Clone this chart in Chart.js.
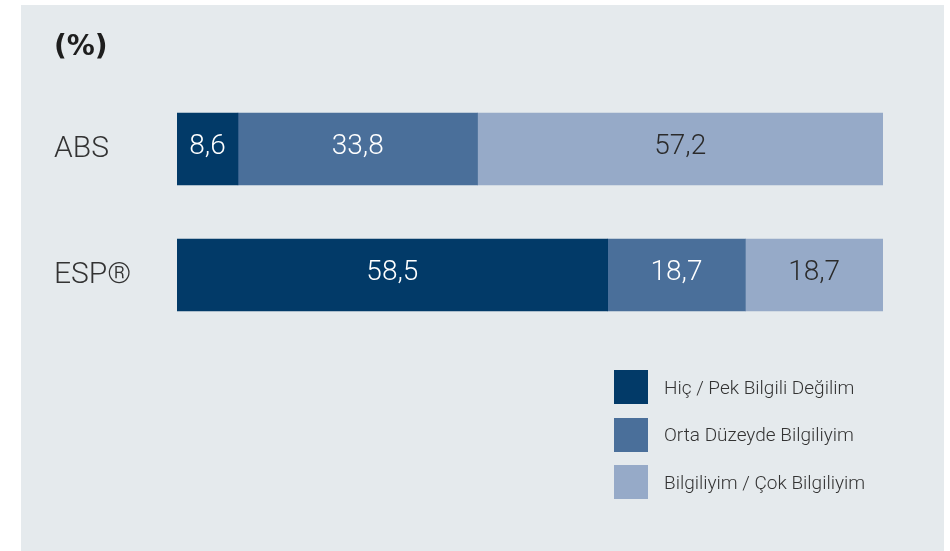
<!DOCTYPE html>
<html>
<head>
<meta charset="utf-8">
<script src="https://cdn.jsdelivr.net/npm/chart.js@4.4.1/dist/chart.umd.min.js"></script>
<style>
  html, body { margin: 0; padding: 0; background: #ffffff; }
  #wrap { position: relative; width: 950px; height: 551px; overflow: hidden; }
  #panel { position: absolute; left: 21px; top: 5px; width: 923px; height: 546px; background: #e5eaed; }
  #c { position: absolute; left: 0; top: 0; }
  #legend { position: absolute; left: 614px; top: 370px; font-family: Roboto, "Liberation Sans", sans-serif; font-weight: 300; font-size: 19px; color: #333333; }
  .li { display: flex; align-items: center; height: 34px; margin-bottom: 13.5px; white-space: nowrap; }
  .sw { width: 34px; height: 34px; margin-right: 16px; flex: none; }
</style>
</head>
<body>
<div id="wrap">
  <div id="panel"></div>
  <canvas id="c" width="950" height="551"></canvas>
  <div id="legend"></div>
</div>
<script>
const title = '(%)';
const categories = ['ABS', 'ESP®'];
const seriesNames = ['Hiç / Pek Bilgili Değilim', 'Orta Düzeyde Bilgiliyim', 'Bilgiliyim / Çok Bilgiliyim'];
const hicPek = [8.6, 58.5];
const ortaDuzeyde = [33.8, 18.7];
const bilgiliyim = [57.2, 18.7];
const seriesColors = ['#023a68', '#4a6f9a', '#96aac8'];
const labelColors = ['#ffffff', '#ffffff', '#2b2b2b'];

const seriesValues = [hicPek, ortaDuzeyde, bilgiliyim];
// 100% stacked: each row shown as share of its row total
const rowTotals = categories.map((_, i) => seriesValues.reduce((s, arr) => s + arr[i], 0));

const datasets = seriesValues.map((vals, k) => ({
  label: seriesNames[k],
  data: vals.map((v, i) => v / rowTotals[i] * 100),
  rawValues: vals,
  backgroundColor: seriesColors[k],
  borderWidth: 0,
  barThickness: 72,
  labelColor: labelColors[k]
}));

const FONT = 'Roboto, "Liberation Sans", sans-serif';

const valueLabels = {
  id: 'valueLabels',
  afterDatasetsDraw(chart) {
    const ctx = chart.ctx;
    ctx.save();
    ctx.font = '300 28px ' + FONT;
    ctx.textAlign = 'center';
    ctx.textBaseline = 'middle';
    chart.data.datasets.forEach((ds, k) => {
      const meta = chart.getDatasetMeta(k);
      meta.data.forEach((bar, i) => {
        const cx = (bar.x + bar.base) / 2;
        ctx.fillStyle = ds.labelColor;
        ctx.fillText(ds.rawValues[i].toFixed(1).replace('.', ','), cx, bar.y - 2);
      });
    });
    ctx.restore();
  }
};

const chart = new Chart(document.getElementById('c'), {
  type: 'bar',
  data: { labels: categories, datasets },
  options: {
    indexAxis: 'y',
    responsive: false,
    animation: false,
    layout: { padding: { left: 54, right: 67, top: 0, bottom: 213 } },
    scales: {
      x: { stacked: true, min: 0, max: 100, display: false },
      y: {
        stacked: true,
        grid: { display: false },
        border: { display: false },
        ticks: { crossAlign: 'far', color: '#333333', font: { family: FONT, size: 30, weight: '300' }, padding: 0 },
        afterFit(scale) { scale.width = 123; }
      }
    },
    plugins: {
      legend: { display: false },
      tooltip: { enabled: false },
      title: {
        display: true,
        text: title,
        align: 'start',
        color: '#1e1e1e',
        font: { family: '"DejaVu Sans", sans-serif', size: 28, weight: 'bold' },
        padding: { top: 31, bottom: 21.4 }
      }
    }
  },
  plugins: [valueLabels]
});

const legendEl = document.getElementById('legend');
chart.data.datasets.forEach(ds => {
  const row = document.createElement('div');
  row.className = 'li';
  const sw = document.createElement('span');
  sw.className = 'sw';
  sw.style.background = ds.backgroundColor;
  const tx = document.createElement('span');
  tx.textContent = ds.label;
  row.appendChild(sw);
  row.appendChild(tx);
  legendEl.appendChild(row);
});
</script>
</body>
</html>
